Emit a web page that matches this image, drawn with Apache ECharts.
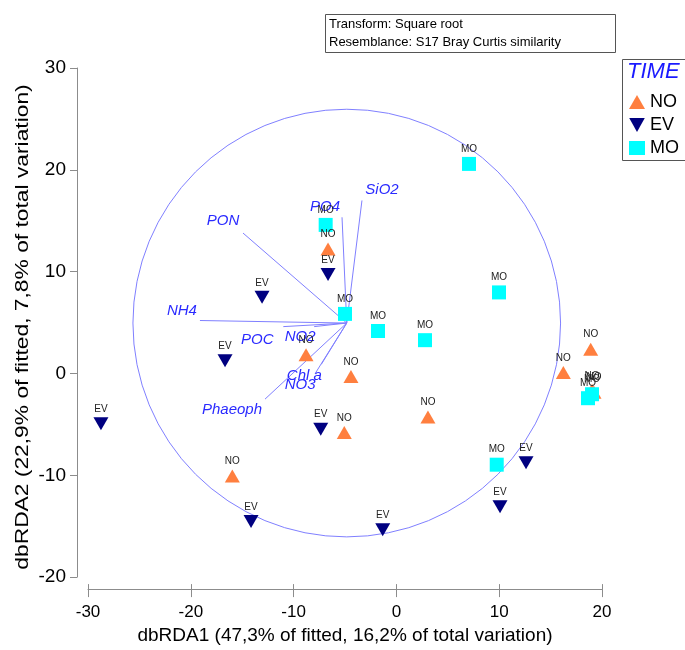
<!DOCTYPE html>
<html>
<head>
<meta charset="utf-8">
<script src="https://cdn.jsdelivr.net/npm/echarts@6/dist/echarts.min.js"></script>
<style>html,body{margin:0;padding:0;background:#fff;}#c{width:685px;height:650px;}</style>
</head>
<body>
<div id="c"></div>
<script>
// ---- data ----
const noPoints = [[-6.65,12.23],[-8.79,1.84],[-4.42,-0.29],[-5.07,-5.79],[3.07,-4.27],[-15.96,-10.07],[16.24,0.10],[18.9,2.39],[19.03,-1.65],[19.22,-1.84]];
const evPoints = [[-6.65,9.71],[-13.07,7.48],[-16.67,1.26],[-28.74,-4.95],[-7.36,-5.47],[-14.14,-14.53],[-1.33,-15.34],[12.61,-8.77],[10.08,-13.08]];
const moPoints = [[7.06,20.58],[-6.88,14.59],[-5.0,5.85],[-1.79,4.17],[9.98,7.96],[2.78,3.27],[9.76,-8.96],[18.64,-2.43],[19.03,-2.04]];
const vectorOrigin = [-4.83, 4.95];
const circleRadius = 20.8;
const vectorNames = ['PON','NH4','POC','NO2','Chl a','NO3','Phaeoph','PO4','SiO2'];
const vectorEndX = [-14.92,-19.11,-11.0,-8.0,-7.3,-7.9,-12.78,-5.29,-3.35];
const vectorEndY = [13.79,5.2,4.6,4.6,0.9,0.0,-2.52,15.34,16.99];
const xTicks = [-30,-20,-10,0,10,20];
const yTicks = [-20,-10,0,10,20,30];
const xTitle = 'dbRDA1 (47,3% of fitted, 16,2% of total variation)';
const yTitle = 'dbRDA2 (22,9% of fitted, 7,8% of total variation)';
const groups = ['NO','EV','MO'];
const infoLines = ['Transform: Square root','Resemblance: S17 Bray Curtis similarity'];

// ---- styles ----
const labelOffsets = [[-20,-12],[-18,-10],[-26,13],[-14,10],[-17,12],[-15,11],[-33,11],[-17,-10],[20,-11]];
const FONT = '"Liberation Sans", Arial, sans-serif';
const colors = {NO:'#FF7F3F', EV:'#000080', MO:'#00FFFF'};
const downTri = 'path://M0,0 L10,0 L5,9 Z';
const AXIS_GREY = '#8c8c8c';

const chart = echarts.init(document.getElementById('c'), null, {renderer:'canvas'});

function pointLabel(name){
  return {show:true, formatter:name, position:'top', distance:3, fontSize:10, color:'#222', fontFamily:FONT};
}

const vecData = vectorNames.map((n,i)=>[vectorEndX[i], vectorEndY[i], i]);
const xMin = xTicks[0], xMax = xTicks[xTicks.length-1];

const option = {
  animation:false,
  backgroundColor:'#fff',
  grid:{left:88, top:68, width:514, height:515, containLabel:false},
  xAxis:[{
    type:'value', min:xMin, max:xMax, interval:10,
    position:'bottom', offset:12,
    axisLine:{show:true, onZero:false, lineStyle:{color:AXIS_GREY, width:1}},
    axisTick:{show:true, inside:false, length:8, lineStyle:{color:AXIS_GREY}},
    axisLabel:{fontSize:17, color:'#000', fontFamily:FONT, margin:15},
    splitLine:{show:false},
    name:xTitle, nameLocation:'middle', nameGap:35,
    nameTextStyle:{fontSize:19, color:'#000', fontFamily:FONT}
  },{
    type:'value', min:xMin, max:xMax, interval:10,
    position:'bottom', offset:12,
    axisLine:{show:false, onZero:false},
    axisTick:{show:true, inside:true, length:5, lineStyle:{color:AXIS_GREY}},
    axisLabel:{show:false},
    splitLine:{show:false}
  }],
  yAxis:{
    type:'value', min:yTicks[0], max:yTicks[yTicks.length-1], interval:10,
    offset:11,
    axisLine:{show:true, onZero:false, lineStyle:{color:AXIS_GREY, width:1}},
    axisTick:{show:true, inside:false, length:7, lineStyle:{color:AXIS_GREY}},
    axisLabel:{fontSize:19, color:'#000', fontFamily:FONT, margin:11},
    splitLine:{show:false}
  },
  legend:{
    orient:'vertical', left:624, top:88, itemGap:5, itemWidth:16, itemHeight:14,
    textStyle:{fontSize:18, color:'#000', fontFamily:FONT},
    data:[
      {name:'NO', icon:'triangle'},
      {name:'EV', icon:downTri},
      {name:'MO', icon:'rect'}
    ]
  },
  graphic:[
    {type:'rect', left:325, top:14, shape:{width:290, height:38}, style:{fill:'#fff', stroke:'#555', lineWidth:1}, z:10},
    {type:'text', left:329, top:15, style:{text:infoLines.join('\n'), font:'13px '+FONT, fill:'#000', lineHeight:18}, z:11},
    {type:'rect', left:622, top:59, shape:{width:80, height:101}, style:{fill:'#fff', stroke:'#555', lineWidth:1}, z:-1},
    {type:'text', left:627, top:61, style:{text:'TIME', font:'italic 22px '+FONT, fill:'#1a1aff'}, z:11},
    {type:'text', x:23, y:327, rotation:Math.PI/2, scaleX:1.2, style:{text:yTitle, font:'19px '+FONT, fill:'#000', align:'center', verticalAlign:'middle'}, z:11}
  ],
  series:[
    {
      type:'custom', name:'circle', silent:true, z:1,
      data:[[vectorOrigin[0], vectorOrigin[1], circleRadius]],
      encode:{x:0, y:1},
      renderItem:function(params, api){
        const c = api.coord([api.value(0), api.value(1)]);
        const r = api.size([api.value(2), 0])[0];
        return {type:'circle', shape:{cx:c[0], cy:c[1], r:r}, style:{fill:null, stroke:'#8080ff', lineWidth:1}};
      }
    },
    {
      type:'custom', name:'vectors', silent:true, z:2,
      data:vecData,
      encode:{x:0, y:1},
      renderItem:function(params, api){
        const o = api.coord(vectorOrigin);
        const e = api.coord([api.value(0), api.value(1)]);
        const i = api.value(2);
        const off = labelOffsets[i];
        return {type:'group', children:[
          {type:'line', shape:{x1:o[0], y1:o[1], x2:e[0], y2:e[1]}, style:{stroke:'#8080ff', lineWidth:1}},
          {type:'text', z2:10, style:{text:vectorNames[i], x:e[0]+off[0], y:e[1]+off[1], align:'center', verticalAlign:'middle', font:'italic 15px '+FONT, fill:'#2a2aff'}}
        ]};
      }
    },
    {type:'scatter', name:'NO', data:noPoints, symbol:'triangle', symbolSize:[15,13], itemStyle:{color:colors.NO, opacity:1}, label:pointLabel('NO'), z:3},
    {type:'scatter', name:'EV', data:evPoints, symbol:'triangle', symbolRotate:180, symbolSize:[15,13], itemStyle:{color:colors.EV, opacity:1}, label:pointLabel('EV'), z:3},
    {type:'scatter', name:'MO', data:moPoints, symbol:'rect', symbolSize:[14,14], itemStyle:{color:colors.MO, opacity:1}, label:pointLabel('MO'), z:3}
  ]
};
chart.setOption(option);
</script>
</body>
</html>
